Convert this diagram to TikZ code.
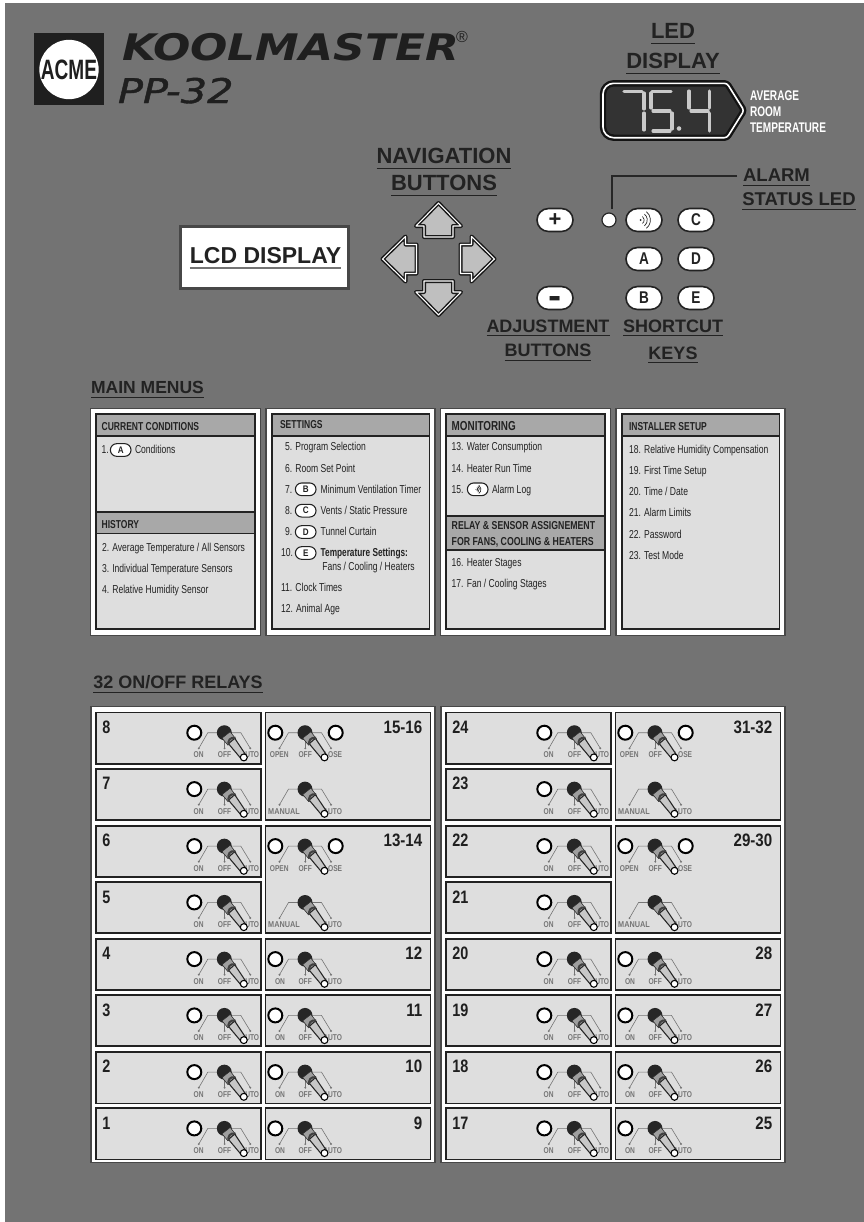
\documentclass[tikz,border=0pt]{standalone}
\usepackage{graphicx}
\usepackage{fontspec}
\setmainfont{Liberation Sans}
\newfontfamily\dvfont{DejaVu Sans}
\newfontfamily\dvsemi[FakeBold=1.2]{DejaVu Sans}
\usetikzlibrary{shapes.misc}
\definecolor{pagegray}{HTML}{737373}
\definecolor{ink}{HTML}{222222}
\definecolor{panelfill}{HTML}{DEDEDE}
\definecolor{headfill}{HTML}{A8A8A8}
\definecolor{switchgray}{HTML}{757575}
\definecolor{segcol}{HTML}{C9C9C9}
\newcounter{nn}
\newcommand\px[1]{\fontsize{\fpeval{#1*0.75}pt}{\fpeval{#1*0.9}pt}\selectfont}
\tikzset{
  x=0.75pt,y=-0.75pt,
  txt/.style={inner sep=0pt,outer sep=0pt,text=ink},
  ulrule/.style={draw=ink,line width=0.75pt},
  cellbox/.style={draw=ink,line width=1.2pt,fill=panelfill},
  pill/.style={rounded rectangle,draw=ink,fill=white,inner sep=0pt,text=ink},
  bigpill/.style={pill,line width=1.2pt,minimum width=27pt,minimum height=17.2pt},
  smallpill/.style={pill,line width=0.8pt,minimum width=15.5pt,minimum height=9.5pt},
  ledlamp/.style={circle,draw=black,fill=white,line width=1.5pt,inner sep=0pt,minimum size=10.5pt},
  wire/.style={draw=switchgray,line width=0.45pt},
  seg/.style={draw=segcol,line width=2.3pt,line cap=round},
}
% underlined label: name, centre x, baseline y, rule y, size px, text
\newcommand\ulab[6]{%
  \node[txt,anchor=base,font=\px{#5}\bfseries] (#1) at (#2,#3) {#6};
  \coordinate (#1u) at (0,#4);
  \draw[ulrule] (#1.base west |- #1u) -- (#1.base east |- #1u);}
% body text: x, baseline, text
\newcommand\mt[3]{\stepcounter{nn}\node[txt,anchor=base west,font=\px{11.5}] (m\arabic{nn}) at (#1,#2) {\scalebox{.745}[1]{#3}};}
\newcommand\mb[3]{\stepcounter{nn}\node[txt,anchor=base west,font=\px{11.5}\bfseries] (m\arabic{nn}) at (#1,#2) {\scalebox{.72}[1]{#3}};}
% header text: x, baseline, scale, size, text
\newcommand\mh[5]{\stepcounter{nn}\node[txt,anchor=base west,font=\px{#4}\bfseries] (h\arabic{nn}) at (#1,#2) {\scalebox{#3}[1]{#5}};}
% small pill
\newcommand\spill[3]{\stepcounter{nn}\node[smallpill,font=\px{9.5}\bfseries] (p\arabic{nn}) at (#1,#2) {\scalebox{.85}[1]{#3}};}
% sound icon
\newcommand\soundicon[3]{%
  \fill[ink] (#1-2.6*#3,#2) circle[radius=0.6pt*#3];
  \foreach \r in {2.5,4.3,6.1}{\draw[ink,line width=0.5pt] (#1-3.2*#3,#2) ++(-52:\r pt*#3) arc[start angle=-52,end angle=52,radius=\r pt*#3];}}
% menu panel
\newcommand\menupanel[3]{%
  \draw[draw=black!72,fill=white,line width=0.9pt] (#1,408.5) rectangle (#2,635.5);
  \draw[draw=ink,fill=panelfill,line width=1.2pt] (#1+5.7,414) rectangle (#2-5.7,629);}
\newcommand\menuhead[4]{\draw[draw=ink,fill=headfill,line width=1.2pt] (#1,#3) rectangle (#2,#4);}
% switch label
\newcommand\swl[3]{\stepcounter{nn}\node[txt,text=switchgray,anchor=base,font=\px{8.5}\bfseries] (s\arabic{nn}) at (#1,#2) {\scalebox{.78}[1]{#3}};}
% switch: ball x, ball y, left text, left dx, centre text, right text, right dx
\newcommand\toggle[7]{%
  \begin{scope}[shift={(#1,#2)}]
    \draw[wire] (-25.5,15.6) -- (-16.5,0) -- (16.5,0) -- (26,15.6);
    \fill[switchgray] (-25.5,15.6) circle[radius=0.8pt] (26,15.6) circle[radius=0.8pt];
    \if\relax\detokenize{#5}\relax\else
      \draw[wire] (0.3,5) -- (0.3,15.6);
      \fill[switchgray] (0.3,15.6) circle[radius=0.8pt];
      \swl{0.2}{25}{#5}
    \fi
    \swl{#4}{25}{#3}
    \swl{#7}{25}{#6}
    \fill[black!85] (0,0) circle[radius=5.6pt];
    \draw[fill=black!38,draw=black!85,line width=0.4pt] (5.9,-1) -- (-2.3,5.4) -- (3.6,12.4) -- (11.6,6.4) -- cycle;
    \draw[fill=black!22,draw=black!85,line width=0.8pt] (10.4,5.6) -- (21.9,22.8) -- (17.1,26.4) -- (4.2,11) -- cycle;
    \draw[black!75,line width=1.5pt] (11.2,5) .. controls (5.2,4.6) and (3.6,7.6) .. (4.2,12.4);
    \draw[fill=white,draw=black,line width=0.8pt] (19.5,24.7) circle[radius=2.6pt];
  \end{scope}}
\newcommand\lamp[2]{\stepcounter{nn}\node[ledlamp] (l\arabic{nn}) at (#1,#2) {};}
% cell number
\newcommand\numl[3]{\stepcounter{nn}\node[txt,text=black!88,anchor=base west,font=\px{18}\bfseries] (c\arabic{nn}) at (#1,#2) {\scalebox{.8}[1]{#3}};}
\newcommand\numr[3]{\stepcounter{nn}\node[txt,text=black!88,anchor=base east,font=\px{18}\bfseries] (c\arabic{nn}) at (#1,#2) {\scalebox{.84}[1]{#3}};}
\begin{document}
\begin{tikzpicture}
\useasboundingbox (0,0) rectangle (864,1222);
\fill[white] (0,0) rectangle (864,1222);
\fill[pagegray] (5,3) rectangle (864,1222);

% logo
\fill[black!88] (34,33) rectangle (104,105);
\node[circle,fill=white,inner sep=0pt,minimum size=43.5pt,text=black!88,font=\px{28}\bfseries] (acme) at (69,69.5) {\scalebox{.68}[1]{ACME}};
\node[txt,text=black!88,anchor=base west,font=\dvfont\px{36.6}\bfseries\itshape] (koolmaster) at (122,60) {\scalebox{1.2}[1]{KOOLMASTER}};
\node[txt,text=black!88,font=\px{16}] (regmark) at (462,37) {®};
\node[txt,text=black!88,anchor=base west,font=\dvsemi\px{34}\itshape] (model) at (118,103) {\scalebox{1.22}[1]{PP-32}};

% LED display
\ulab{ledone}{673}{38}{43.5}{22}{LED}
\ulab{ledtwo}{673}{68}{73.5}{22}{DISPLAY}
\draw[draw=black!92,fill=black!80,line width=4.8pt,line join=round] (665,83.3) [rounded corners=2pt] -- (727,83.3) -- (744,110.5) -- (727,137.7) [rounded corners=8pt] -- (603,137.7) -- (603,83.3) -- cycle;
\draw[draw=white,line width=1.2pt,line join=round] (665,83.3) [rounded corners=2pt] -- (727,83.3) -- (744,110.5) -- (727,137.7) [rounded corners=8pt] -- (603,137.7) -- (603,83.3) -- cycle;
\draw[seg] (624,91.5) -- (642,91.5) (644,93) -- (644,109) (644,113) -- (644,130);
\draw[seg] (652,91.5) -- (671,91.5) (651,93) -- (651,108) (653,111) -- (670,111) (672,113) -- (672,129) (653,131) -- (670,131);
\fill[segcol] (679,128.5) circle[radius=1.7pt];
\draw[seg] (689,91) -- (689,108) (691,111) -- (708,111) (709.5,91) -- (709.5,108) (709.5,113) -- (709.5,131);
\node[txt,text=white,anchor=base west,font=\px{14}\bfseries] (avgone) at (750,100.7) {\scalebox{.72}[1]{AVERAGE}};
\node[txt,text=white,anchor=base west,font=\px{14}\bfseries] (avgtwo) at (750,116.7) {\scalebox{.72}[1]{ROOM}};
\node[txt,text=white,anchor=base west,font=\px{14}\bfseries] (avgthree) at (750,132.7) {\scalebox{.72}[1]{TEMPERATURE}};

% navigation
\ulab{navone}{444}{163}{168}{22}{NAVIGATION}
\ulab{navtwo}{444}{190}{195}{22}{BUTTONS}
\foreach \a in {90,180,270,0}{
  \begin{scope}[shift={(438.5,259)},rotate=\a]
    \draw[draw=black!90,fill=black!25,line width=3pt,line join=round] (56,0) -- (33,22.5) -- (33,14.5) -- (22,14.5) -- (22,-14.5) -- (33,-14.5) -- (33,-22.5) -- cycle;
    \draw[draw=white,line width=0.8pt,line join=round] (56,0) -- (33,22.5) -- (33,14.5) -- (22,14.5) -- (22,-14.5) -- (33,-14.5) -- (33,-22.5) -- cycle;
  \end{scope}}

% LCD
\draw[draw=black!72,fill=white,line width=2.2pt] (180.5,226.5) rectangle (348.5,288.5);
\node[txt,anchor=base,font=\px{23}\bfseries] (lcd) at (265.5,263) {LCD DISPLAY};
\coordinate (lcdu) at (0,268);
\draw[draw=black!55,line width=1pt] (lcd.base west |- lcdu) -- (lcd.base east |- lcdu);

% buttons
\node[bigpill,font=\px{22}\bfseries] (plus) at (555,220) {+};
\node[bigpill] (minus) at (555,298) {};
\node[txt,font=\px{20}\bfseries] (minusmark) at (555,303) {\scalebox{1}[2.2]{–}};
\node[ledlamp,draw=black!85,line width=0.9pt] (alarmled) at (609,220) {};
\node[bigpill] (sound) at (644,220) {};
\soundicon{644}{220}{1.3}
\node[bigpill,font=\px{17}\bfseries] (btnc) at (696,220) {\scalebox{.8}[1]{C}};
\node[bigpill,font=\px{17}\bfseries] (btna) at (644,259) {\scalebox{.8}[1]{A}};
\node[bigpill,font=\px{17}\bfseries] (btnd) at (696,259) {\scalebox{.8}[1]{D}};
\node[bigpill,font=\px{17}\bfseries] (btnb) at (644,298) {\scalebox{.8}[1]{B}};
\node[bigpill,font=\px{17}\bfseries] (btne) at (696,298) {\scalebox{.8}[1]{E}};
\coordinate (alarmend) at (737,176);
\coordinate (alarmdrop) at (612,209);
\draw[draw=black!85,line width=1.5pt] (alarmend) -| (alarmdrop);
\ulab{alarmone}{776.5}{181.7}{185}{18.5}{ALARM}
\ulab{alarmtwo}{799}{205}{209}{18.5}{STATUS LED}
\ulab{adjone}{548}{332}{335.5}{18}{ADJUSTMENT}
\ulab{adjtwo}{548}{356}{360}{18}{BUTTONS}
\ulab{keyone}{673}{332}{335.5}{18}{SHORTCUT}
\ulab{keytwo}{673}{359}{362.5}{18}{KEYS}

% main menus
\ulab{mainlab}{147.5}{393}{397}{17.5}{MAIN MENUS}
\menupanel{90.5}{260.5}{}
\menupanel{266}{435}{}
\menupanel{440.5}{610.5}{}
\menupanel{616}{785}{}
\menuhead{96.2}{254.8}{414}{435.7}
\menuhead{96.2}{254.8}{511.7}{533.3}
\menuhead{271.7}{429.3}{414}{435.7}
\menuhead{446.2}{604.8}{414}{435.7}
\menuhead{446.2}{604.8}{515.7}{550}
\menuhead{621.7}{779.3}{414}{435.7}

\mh{101.7}{430}{.74}{11.5}{CURRENT CONDITIONS}
\mt{101.7}{453}{1.}
\spill{120.7}{450}{A}
\mt{135}{453}{Conditions}
\mh{101.7}{528}{.74}{11.5}{HISTORY}
\mt{102}{551}{2. Average Temperature / All Sensors}
\mt{102}{572}{3. Individual Temperature Sensors}
\mt{102}{593.3}{4. Relative Humidity Sensor}

\mh{280}{428.3}{.74}{11.5}{SETTINGS}
\mt{285}{450.7}{5. Program Selection}
\mt{285}{472}{6. Room Set Point}
\mt{285}{493.3}{7.}
\spill{305.7}{489.3}{B}
\mt{320.7}{493.3}{Minimum Ventilation Timer}
\mt{285}{514.5}{8.}
\spill{305.7}{510.7}{C}
\mt{320.7}{514.5}{Vents / Static Pressure}
\mt{285}{535.3}{9.}
\spill{305.7}{532}{D}
\mt{320.7}{535.3}{Tunnel Curtain}
\mt{281}{556.7}{10.}
\spill{305.7}{553}{E}
\mb{320.7}{556.7}{Temperature Settings:}
\mt{322.3}{570}{Fans / Cooling / Heaters}
\mt{281}{591}{11. Clock Times}
\mt{281}{612.3}{12. Animal Age}

\mh{451.7}{430}{.76}{13}{MONITORING}
\mt{451.7}{450.7}{13. Water Consumption}
\mt{451.7}{472}{14. Heater Run Time}
\mt{451.7}{493.3}{15.}
\spill{477.7}{489.3}{}
\soundicon{477.7}{489.3}{0.65}
\mt{492}{493.3}{Alarm Log}
\mh{451.7}{529.3}{.76}{11.5}{RELAY \& SENSOR ASSIGNEMENT}
\mh{451.7}{545}{.76}{11.5}{FOR FANS, COOLING \& HEATERS}
\mt{451.7}{566}{16. Heater Stages}
\mt{451.7}{587.3}{17. Fan / Cooling Stages}

\mh{629}{430}{.74}{11.5}{INSTALLER SETUP}
\mt{629}{453.3}{18. Relative Humidity Compensation}
\mt{629}{474.7}{19. First Time Setup}
\mt{629}{495.7}{20. Time / Date}
\mt{629}{516.7}{21. Alarm Limits}
\mt{629}{538}{22. Password}
\mt{629}{559}{23. Test Mode}

% relays
\ulab{relaylab}{178}{688}{692}{18}{32 ON/OFF RELAYS}
\foreach \dx/\dn in {0/0,350/16}{
  \begin{scope}[shift={(\dx,0)}]
    \draw[draw=black!72,fill=white,line width=0.9pt] (91,706.5) rectangle (435,1162.5);
    % column 1 rows
    \foreach \ya/\yb/\n in {712.3/764/8,768.7/820/7,825.7/877/6,882/932.7/5,938.7/990/4,995/1046/3,1051.7/1103.3/2,1108/1159.3/1}{
      \draw[cellbox] (96,\ya) rectangle (261,\yb);
      \pgfmathtruncatemacro\lab{\n+\dn}
      \numl{102.3}{\ya+21}{\lab}
      \pgfmathsetmacro\by{\ya+20.4}
      \lamp{194.3}{\by}
      \toggle{224.3}{\by}{ON}{-25.7}{OFF}{AUTO}{25.5}
    }
    % column 2 single rows
    \foreach \ya/\yb/\n in {938.7/990/12,995/1046/11,1051.7/1103.3/10,1108/1159.3/9}{
      \draw[cellbox] (265.3,\ya) rectangle (430.3,\yb);
      \pgfmathtruncatemacro\lab{\n+\dn}
      \numr{422.3}{\ya+21}{\lab}
      \pgfmathsetmacro\by{\ya+20.4}
      \lamp{275.3}{\by}
      \toggle{305}{\by}{ON}{-25}{OFF}{AUTO}{27.7}
    }
    % column 2 double rows
    \foreach \ya/\yb/\na/\nb in {712.3/820/15/16,825.7/932.7/13/14}{
      \draw[cellbox] (265.3,\ya) rectangle (430.3,\yb);
      \pgfmathtruncatemacro\laba{\na+\dn}
      \pgfmathtruncatemacro\labb{\nb+\dn}
      \numr{422.3}{\ya+21}{\laba-\labb}
      \pgfmathsetmacro\by{\ya+20.4}
      \pgfmathsetmacro\bz{\ya+76.8}
      \lamp{275.3}{\by}
      \lamp{335.7}{\by}
      \toggle{305}{\by}{OPEN}{-25.7}{OFF}{CLOSE}{25.7}
      \toggle{305}{\bz}{\scalebox{1.1}[1]{MANUAL}}{-21}{}{AUTO}{27.7}
    }
  \end{scope}}
\end{tikzpicture}
\end{document}
